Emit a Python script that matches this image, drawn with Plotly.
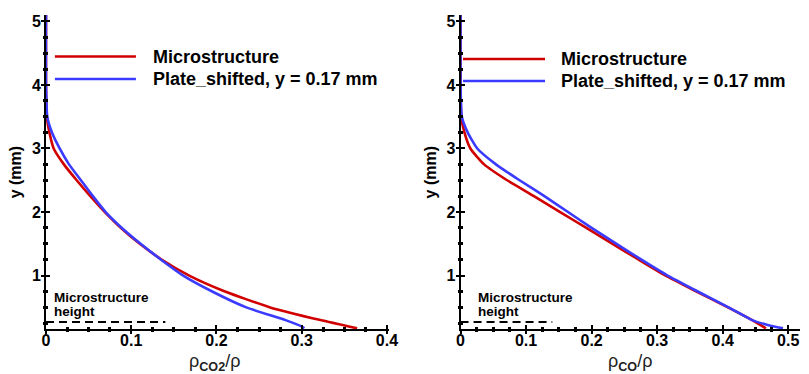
import plotly.graph_objects as go

# ---- CO2 mass fraction profiles (left panel) ----
co2_micro_y = [5.10, 4.00, 3.50, 3.25, 3.00, 2.75, 2.50, 2.25, 2.00, 1.75, 1.50, 1.25, 1.00, 0.75,
               0.50, 0.30, 0.17]
co2_micro_x = [0.000, 0.000, 0.001, 0.004, 0.009, 0.021, 0.036, 0.052, 0.069, 0.088, 0.110, 0.136,
               0.168, 0.210, 0.263, 0.322, 0.365]

co2_plate_y = [5.10, 4.00, 3.50, 3.25, 3.00, 2.75, 2.50, 2.25, 2.00, 1.75, 1.50, 1.25, 1.00, 0.75,
               0.50, 0.30, 0.20, 0.17]
co2_plate_x = [0.000, 0.000, 0.0015, 0.007, 0.016, 0.027, 0.041, 0.055, 0.070, 0.089, 0.111, 0.135,
               0.161, 0.195, 0.235, 0.281, 0.300, 0.303]

# ---- CO mass fraction profiles (right panel) ----
co_micro_y = [5.10, 4.00, 3.50, 3.25, 3.00, 2.75, 2.50, 2.25, 2.00, 1.75, 1.50, 1.25, 1.00, 0.75,
              0.50, 0.30, 0.17]
co_micro_x = [0.000, 0.000, 0.001, 0.006, 0.0150, 0.036, 0.071, 0.112, 0.152, 0.192, 0.232, 0.272,
              0.313, 0.360, 0.408, 0.445, 0.466]

co_plate_y = [5.10, 4.00, 3.50, 3.25, 3.00, 2.75, 2.50, 2.25, 2.00, 1.75, 1.50, 1.25, 1.00, 0.75,
              0.50, 0.30, 0.23, 0.19, 0.17]
co_plate_x = [0.000, 0.000, 0.002, 0.011, 0.0255, 0.054, 0.090, 0.128, 0.164, 0.200, 0.238, 0.276,
              0.316, 0.362, 0.409, 0.445, 0.466, 0.482, 0.492]

# microstructure height marker
micro_height_x = [0.0, 0.14]
micro_height_y = [0.27, 0.27]

series_names = ["Microstructure", "Plate_shifted, y = 0.17 mm"]
x_titles = ["ρ<sub><b>CO2</b></sub>/ρ", "ρ<sub><b>CO</b></sub>/ρ"]
y_title = "y (mm)"
height_note = ["Microstructure", "height"]

RED = "#d10000"
BLUE = "#3b3bff"
FONT = "Liberation Sans, Arial, sans-serif"

W, H = 809, 374
ML, MR, MT, MB = 46, 0, 15, 45
PW, PH = W - ML - MR, H - MT - MB


def px(xp):
    return (xp - ML) / PW


def py(yp):
    return (H - MB - yp) / PH


x1_dom = [0.0, px(393)]
x2_dom = [px(465.5), 1.0]
x1_range = [0, 0.4023]
x2_range = [0, 0.518]
y_range = [0.16, 5.1]

fig = go.Figure()

line_w = 2.6
curve_style = dict(width=line_w, shape="spline", smoothing=0.5)
fig.add_trace(go.Scatter(x=co2_micro_x, y=co2_micro_y, mode="lines", line=dict(color=RED, **curve_style),
                         name=series_names[0], showlegend=False, xaxis="x", yaxis="y"))
fig.add_trace(go.Scatter(x=co2_plate_x, y=co2_plate_y, mode="lines", line=dict(color=BLUE, **curve_style),
                         name=series_names[1], showlegend=False, xaxis="x", yaxis="y"))
fig.add_trace(go.Scatter(x=co_micro_x, y=co_micro_y, mode="lines", line=dict(color=RED, **curve_style),
                         name=series_names[0], showlegend=False, xaxis="x2", yaxis="y2"))
fig.add_trace(go.Scatter(x=co_plate_x, y=co_plate_y, mode="lines", line=dict(color=BLUE, **curve_style),
                         name=series_names[1], showlegend=False, xaxis="x2", yaxis="y2"))

for xa, ya in (("x", "y"), ("x2", "y2")):
    fig.add_trace(go.Scatter(x=micro_height_x, y=micro_height_y, mode="lines",
                             line=dict(color="black", width=2, dash="8px,5px"),
                             showlegend=False, hoverinfo="skip", xaxis=xa, yaxis=ya))

# empty traces so the overlay axes (outer half of the tick marks) get drawn
for xa, ya in (("x3", "y3"), ("x4", "y4")):
    fig.add_trace(go.Scatter(x=[], y=[], showlegend=False, xaxis=xa, yaxis=ya))

tickfont = dict(family=FONT, size=16, color="black", weight="bold")


def base_x(rng, dom, anchor):
    return dict(range=rng, domain=dom, anchor=anchor, showgrid=False, zeroline=False,
                showline=True, linecolor="black", linewidth=2,
                tick0=0, dtick=0.1, ticks="inside", ticklen=4, tickwidth=2, tickcolor="black",
                minor=dict(dtick=0.025, tick0=0, ticks="inside", ticklen=2, tickwidth=3, tickcolor="black"),
                tickfont=tickfont, ticklabelstandoff=-4, fixedrange=True)


def base_y(dom_anchor):
    return dict(range=y_range, domain=[0, 1], anchor=dom_anchor, showgrid=False, zeroline=False,
                showline=True, linecolor="black", linewidth=2,
                tick0=0, dtick=1, ticks="inside", ticklen=4, tickwidth=2, tickcolor="black",
                minor=dict(dtick=0.25, tick0=0, ticks="inside", ticklen=2, tickwidth=3, tickcolor="black"),
                tickfont=tickfont, fixedrange=True)


def overlay(base, over):
    d = dict(base)
    d.update(overlaying=over, showline=False, showticklabels=False, ticks="outside",
             minor=dict(base["minor"], ticks="outside"))
    d.pop("domain", None)
    return d


xa1 = base_x(x1_range, x1_dom, "y")
xa2 = base_x(x2_range, x2_dom, "y2")
ya1 = base_y("x")
ya2 = base_y("x2")

fig.update_layout(
    xaxis=xa1, xaxis2=xa2, yaxis=ya1, yaxis2=ya2,
    xaxis3=dict(overlay(xa1, "x"), anchor="y3"),
    xaxis4=dict(overlay(xa2, "x2"), anchor="y4"),
    yaxis3=dict(overlay(ya1, "y"), anchor="x3"),
    yaxis4=dict(overlay(ya2, "y2"), anchor="x4"),
)

# legend keys and labels
shapes = []
annotations = []
legend_rows = [  # (line x0, line x1, text x, row y for each series)
    (55, 137, 152, [56.5, 79]),
    (468, 551, 565, [59, 81]),
]
for x0, x1, tx, rows in legend_rows:
    for color, name, yr in zip((RED, BLUE), series_names, rows):
        shapes.append(dict(type="line", xref="paper", yref="paper", x0=px(x0), x1=px(x1), y0=py(yr), y1=py(yr),
                           line=dict(color=color, width=2.6)))
        annotations.append(dict(xref="paper", yref="paper", x=px(tx), y=py(yr), xanchor="left", yanchor="middle",
                                text=name, showarrow=False,
                                font=dict(family=FONT, size=18, color="black", weight="bold")))

# microstructure height notes (two tight lines)
for xr, yr, shift in (("x", "y", 6), ("x2", "y2", 15)):
    for line_text, ysh in zip(height_note, (25, 11)):
        annotations.append(dict(xref=xr, yref=yr, x=0, y=micro_height_y[0], xanchor="left", yanchor="middle",
                                xshift=shift, yshift=ysh, text=line_text, showarrow=False,
                                font=dict(family=FONT, size=13.5, color="black", weight="bold")))

# axis titles
for cx, title in ((217, x_titles[0]), (637, x_titles[1])):
    annotations.append(dict(xref="paper", yref="paper", x=px(cx), y=py(362), xanchor="center", yanchor="middle",
                            text=title, showarrow=False,
                            font=dict(family=FONT, size=18, color="#222222")))
for cx in (15, 435):
    annotations.append(dict(xref="paper", yref="paper", x=px(cx), y=py(172), xanchor="center", yanchor="middle",
                            text=y_title, textangle=-90, showarrow=False,
                            font=dict(family=FONT, size=16, color="black", weight="bold")))

fig.update_layout(
    width=W, height=H,
    margin=dict(l=ML, r=MR, t=MT, b=MB, pad=0),
    paper_bgcolor="white", plot_bgcolor="white",
    shapes=shapes, annotations=annotations,
    showlegend=False,
)

fig.write_html("out.html", config={"displayModeBar": False})
